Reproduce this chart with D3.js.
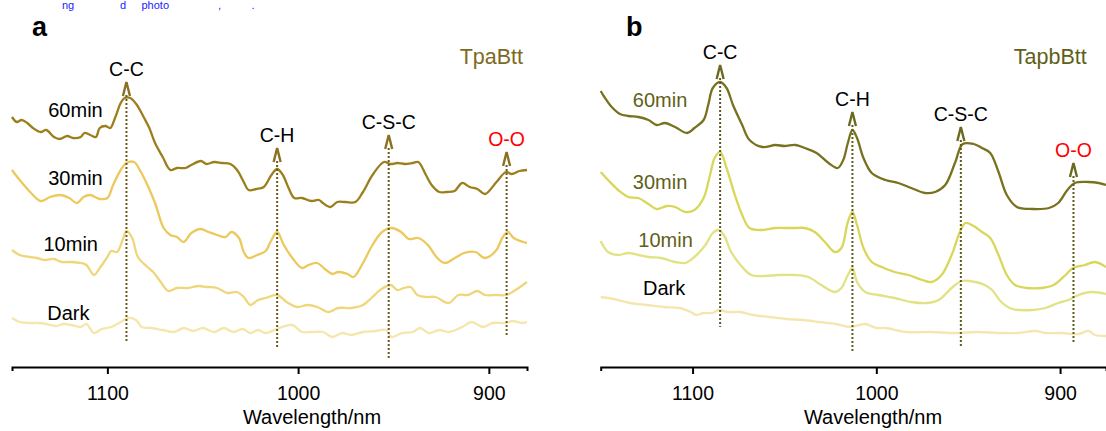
<!DOCTYPE html>
<html>
<head>
<meta charset="utf-8">
<script src="https://cdn.jsdelivr.net/npm/d3@7"></script>
<style>
  body { margin: 0; background: #fff; }
  svg { display: block; font-family: "Liberation Sans", Arial, sans-serif; }
</style>
</head>
<body>
<div id="chart"></div>
<script>
// spectra: [wavelength nm, intensity a.u. (stacked)]
const a60 = [[1150,2.50],[1147.5,2.45],[1145,2.47],[1142,2.44],[1139,2.39],[1135,2.35],[1132,2.37],[1128,2.30],[1125,2.28],[1121,2.31],[1118,2.29],[1114,2.30],[1112,2.34],[1109,2.32],[1106,2.30],[1104,2.39],[1101,2.41],[1098.5,2.39],[1096,2.49],[1093,2.64],[1091,2.69],[1088,2.69],[1084.5,2.62],[1081,2.50],[1078,2.39],[1075,2.24],[1071,2.10],[1067,1.97],[1063.5,1.99],[1059,1.99],[1056,2.02],[1051,2.06],[1048,2.03],[1044,2.05],[1040,2.04],[1035.5,2.03],[1032,1.97],[1028.5,1.85],[1026,1.77],[1022,1.78],[1018,1.80],[1014,1.92],[1011,1.98],[1008,1.92],[1005,1.79],[1002,1.69],[998,1.69],[993,1.66],[989,1.67],[987,1.64],[983,1.60],[979.5,1.65],[975,1.65],[970,1.65],[966,1.75],[961,1.92],[955,2.05],[951.5,2.03],[948,2.04],[944,2.03],[940,2.04],[937,2.05],[933,1.92],[930,1.82],[926,1.75],[922,1.75],[918,1.76],[914,1.84],[910,1.80],[906,1.78],[902,1.73],[896,1.85],[891,1.95],[888,1.93],[884,1.96],[880,1.97]]
const a30 = [[1150,1.97],[1146,1.87],[1140.5,1.75],[1135,1.66],[1130,1.70],[1125,1.72],[1120,1.69],[1116,1.64],[1112.5,1.70],[1109,1.72],[1104,1.68],[1100,1.69],[1097,1.82],[1093,1.97],[1090,2.04],[1086,2.05],[1083,1.97],[1079,1.82],[1075,1.64],[1070.5,1.39],[1067,1.32],[1063.5,1.30],[1060,1.25],[1056,1.34],[1051,1.38],[1047,1.35],[1042.5,1.32],[1038,1.30],[1035,1.35],[1031,1.29],[1028.5,1.15],[1026,1.09],[1021.5,1.12],[1017,1.16],[1014.5,1.25],[1011,1.35],[1007.5,1.22],[1003,1.09],[998,0.99],[994.5,1.02],[990,1.04],[986,0.98],[982,0.93],[979,0.95],[974,0.93],[971,0.90],[966,1.04],[961,1.22],[956,1.35],[951,1.39],[946,1.35],[942,1.28],[937,1.29],[932,1.22],[927,1.09],[923,1.04],[917,1.10],[913,1.14],[907,1.15],[902,1.09],[896,1.17],[893,1.29],[890,1.35],[887,1.29],[882,1.25],[880,1.24]]
const a10 = [[1150,1.17],[1146,1.12],[1140.5,1.10],[1137,1.09],[1133,1.07],[1128,1.08],[1124,1.05],[1119,1.05],[1114,1.04],[1111,1.02],[1107,0.92],[1104,0.99],[1100,1.10],[1098,1.16],[1095,1.15],[1092,1.27],[1090,1.36],[1087,1.29],[1084,1.10],[1079,1.00],[1076,0.95],[1072,0.85],[1068,0.76],[1063.5,0.79],[1058,0.79],[1052,0.81],[1048,0.80],[1042.5,0.79],[1037,0.74],[1032,0.75],[1028.5,0.70],[1025,0.62],[1021,0.67],[1017,0.69],[1011,0.72],[1006,0.65],[1000.5,0.60],[995,0.62],[990,0.60],[984,0.55],[979,0.59],[972,0.59],[966,0.62],[961,0.70],[957,0.77],[951.5,0.82],[948,0.77],[944.5,0.79],[941,0.80],[937.5,0.72],[933,0.70],[928,0.70],[921,0.64],[916,0.72],[911,0.72],[906,0.76],[902,0.72],[896,0.72],[891,0.72],[886,0.77],[880,0.85]]
const aDark = [[1150,0.49],[1146,0.45],[1140.5,0.44],[1136,0.44],[1132,0.43],[1127,0.41],[1123,0.43],[1119,0.42],[1114,0.40],[1111,0.43],[1107,0.34],[1103,0.38],[1098,0.40],[1093,0.45],[1089,0.49],[1085,0.47],[1082,0.40],[1077,0.39],[1071,0.37],[1065,0.35],[1060,0.39],[1055,0.36],[1050,0.39],[1044,0.35],[1039,0.39],[1034,0.35],[1029,0.38],[1025,0.34],[1021,0.37],[1017,0.34],[1010,0.39],[1003,0.42],[998,0.35],[993,0.35],[987,0.35],[982,0.30],[977,0.34],[972,0.32],[966,0.35],[959.5,0.36],[954,0.37],[951,0.30],[945.5,0.34],[940,0.35],[936,0.39],[931.5,0.34],[926,0.37],[921,0.35],[914,0.40],[909,0.45],[903,0.40],[898,0.44],[891,0.44],[888,0.46],[882,0.44],[880,0.45]]

const b60 = [[1150,2.76],[1148,2.70],[1144,2.60],[1139.5,2.53],[1135,2.51],[1129.5,2.50],[1124,2.47],[1119.5,2.42],[1115,2.44],[1109.5,2.40],[1103,2.34],[1099,2.39],[1094,2.47],[1091.5,2.62],[1089,2.79],[1085,2.85],[1081.5,2.79],[1078,2.62],[1073,2.42],[1069,2.27],[1062,2.20],[1055,2.22],[1050,2.21],[1044,2.22],[1039,2.19],[1032.5,2.14],[1026,2.04],[1021,1.99],[1018,2.07],[1015.5,2.24],[1013,2.37],[1010.5,2.29],[1007,2.09],[1002.5,1.94],[995,1.87],[988,1.84],[981,1.79],[973.5,1.74],[968,1.75],[962.5,1.82],[957,2.05],[953,2.23],[947,2.23],[942.5,2.19],[938,2.14],[933.5,1.95],[929,1.72],[923.5,1.60],[915,1.58],[906,1.59],[901,1.64],[896,1.77],[892,1.84],[884.5,1.85],[879,1.84],[875,1.82]]
const b30 = [[1150,1.95],[1146,1.87],[1140.5,1.77],[1135,1.70],[1129.5,1.69],[1124,1.63],[1119.5,1.58],[1114,1.61],[1109.5,1.60],[1104,1.55],[1099,1.57],[1094,1.69],[1090.5,1.92],[1088,2.09],[1085,2.15],[1081.5,1.99],[1077,1.72],[1073,1.52],[1069,1.39],[1062,1.37],[1055,1.39],[1050,1.39],[1044,1.39],[1039,1.39],[1033.5,1.35],[1028,1.25],[1022.5,1.15],[1019,1.19],[1015.5,1.45],[1013,1.55],[1010.5,1.42],[1007,1.19],[1002.5,1.05],[997,1.00],[990,0.95],[982.5,0.92],[975,0.87],[970,0.85],[964.5,0.92],[959,1.12],[954.5,1.35],[951.5,1.44],[947,1.41],[942.5,1.35],[938,1.29],[933.5,1.12],[929,0.92],[924.5,0.82],[918,0.79],[910,0.79],[903.5,0.82],[897,0.92],[893,0.99],[886.5,1.02],[881,1.05],[875,1.00]]
const b10 = [[1150,1.26],[1146,1.15],[1140.5,1.12],[1135,1.14],[1129.5,1.12],[1124,1.10],[1117,1.09],[1109.5,1.05],[1104,1.04],[1099,1.10],[1093,1.22],[1089,1.34],[1086,1.37],[1083,1.32],[1079,1.15],[1073,1.00],[1068,0.92],[1060.5,0.91],[1053.5,0.92],[1044,0.92],[1037,0.90],[1030,0.82],[1022.5,0.75],[1019,0.79],[1015.5,0.92],[1013,0.99],[1010.5,0.85],[1006,0.75],[999,0.72],[990,0.69],[981,0.65],[972,0.64],[966,0.67],[959,0.79],[953.5,0.86],[946,0.85],[941,0.82],[937,0.77],[932,0.65],[926,0.58],[915,0.57],[908,0.59],[901,0.64],[895.5,0.67],[890,0.72],[883,0.75],[875,0.73]]
const bDark = [[1150,0.70],[1143,0.68],[1134,0.64],[1125,0.62],[1116,0.60],[1107,0.59],[1101,0.55],[1098,0.52],[1094,0.54],[1089,0.54],[1086,0.57],[1081,0.55],[1074,0.55],[1067,0.52],[1058,0.50],[1049,0.48],[1040,0.47],[1031,0.45],[1022,0.43],[1014,0.40],[1006,0.43],[1000,0.39],[995,0.39],[983.5,0.35],[970,0.35],[957,0.34],[944.5,0.35],[933.5,0.34],[923,0.34],[913,0.36],[908,0.34],[899,0.34],[890,0.33],[884.5,0.36],[881,0.32],[875,0.31]]

// peak markers: wavelength, arrow tip and line foot (intensity units)
const peaksA = [
  {label: 'C-C',   wl: 1090,  tip: 2.85, foot: 0.25},
  {label: 'C-H',   wl: 1011,  tip: 2.19, foot: 0.19},
  {label: 'C-S-C', wl: 952.5, tip: 2.32, foot: 0.09},
  {label: 'O-O',   wl: 890.7, tip: 2.15, foot: 0.30}
]
const peaksB = [
  {label: 'C-C',   wl: 1085,  tip: 3.02, foot: 0.40},
  {label: 'C-H',   wl: 1013,  tip: 2.55, foot: 0.14},
  {label: 'C-S-C', wl: 954,   tip: 2.40, foot: 0.20},
  {label: 'O-O',   wl: 892.7, tip: 2.04, foot: 0.25}
]
// curve name labels: wavelength of left edge, baseline intensity
const namesA = [
  {text: '60min', wl: 1131, v: 2.50},
  {text: '30min', wl: 1131, v: 1.82},
  {text: '10min', wl: 1133.5, v: 1.16},
  {text: 'Dark',  wl: 1131.5, v: 0.47}
]
const namesB = [
  {text: '60min', wl: 1132.5, v: 2.60},
  {text: '30min', wl: 1132.5, v: 1.78},
  {text: '10min', wl: 1129.5, v: 1.20},
  {text: 'Dark',  wl: 1127, v: 0.72}
]
const tickVals = [1100, 1000, 900]

const W = 1106, H = 431
const svg = d3.select('#chart').append('svg').attr('width', W).attr('height', H)

// caption fragment above the figure (blue)
svg.append('text')
  .attr('x', 62).attr('y', 9)
  .style('font-size', '11px').style('fill', '#1a1aff')
  .style('white-space', 'pre')
  .text('ng               d     photo                ,          .')

const y = d3.scaleLinear().domain([0, 3]).range([367, 67])

function panel(cfg) {
  const x = d3.scaleLinear().domain(cfg.domain).range(cfg.range)
  const g = svg.append('g')

  const line = d3.line()
    .x(d => x(d[0])).y(d => y(d[1]))
    .curve(d3.curveCatmullRom.alpha(0.5))

  cfg.series.forEach(s => {
    g.append('path').datum(s.data)
      .attr('d', line)
      .attr('fill', 'none')
      .attr('stroke', s.color)
      .attr('stroke-width', 2.3)
      .attr('stroke-linejoin', 'round')
  })

  // dotted guide lines + arrowheads
  cfg.peaks.forEach(p => {
    const px = x(p.wl), pt = y(p.tip)
    g.append('line')
      .attr('x1', px).attr('x2', px)
      .attr('y1', pt + 13).attr('y2', y(p.foot))
      .attr('stroke', cfg.dash).attr('stroke-width', 2)
      .attr('stroke-dasharray', '2,2')
    g.append('path')
      .attr('d', `M${px - 3.5},${pt + 14}L${px},${pt}L${px + 3.5},${pt + 14}`)
      .attr('fill', 'none').attr('stroke', cfg.arrow).attr('stroke-width', 2.4)
    g.append('text')
      .attr('x', px).attr('y', pt - 6)
      .attr('text-anchor', 'middle')
      .style('font-size', '19.5px')
      .style('fill', p.label === 'O-O' ? '#ff0000' : '#000')
      .text(p.label)
  })

  cfg.names.forEach((n, i) => {
    g.append('text')
      .attr('x', x(n.wl)).attr('y', y(n.v))
      .style('font-size', '20px')
      .style('fill', cfg.nameColors[i])
      .text(n.text)
  })

  // axis
  const ax = g.append('g')
    .attr('transform', `translate(0,${y(0)})`)
    .call(d3.axisBottom(x).tickValues(tickVals).tickFormat(d3.format('d'))
      .tickSize(7).tickSizeOuter(4).tickPadding(12))
  ax.select('.domain').attr('stroke-width', 2)
  ax.selectAll('.tick line').attr('stroke-width', 2)
  ax.selectAll('.tick text').style('font-size', '19.5px').style('font-family', '"Liberation Sans", Arial, sans-serif')

  g.append('text')
    .attr('x', cfg.titleX).attr('y', 424)
    .attr('text-anchor', 'middle')
    .style('font-size', '20px')
    .text('Wavelength/nm')

  g.append('text')
    .attr('x', cfg.letterX).attr('y', 36)
    .style('font-size', '27px').style('font-weight', 'bold')
    .text(cfg.letter)

  g.append('text')
    .attr('x', cfg.range[0] + cfg.nameEnd).attr('y', 64)
    .attr('text-anchor', 'end')
    .style('font-size', '21.5px').style('fill', cfg.nameFill)
    .text(cfg.name)
}

panel({
  domain: [1150, 880], range: [12, 527],
  series: [
    {data: aDark, color: '#f5e6ac'},
    {data: a10, color: '#f0d67a'},
    {data: a30, color: '#ebc95c'},
    {data: a60, color: '#9b7f1c'}
  ],
  peaks: peaksA, dash: '#6e5a1e', arrow: '#8a7020',
  names: namesA, nameColors: ['#000', '#000', '#000', '#000'],
  titleX: 312, letter: 'a', letterX: 32,
  name: 'TpaBtt', nameEnd: 511, nameFill: '#7d6a1e'
})

panel({
  domain: [1150, 875], range: [600.7, 1106],
  series: [
    {data: bDark, color: '#f5e6b0'},
    {data: b10, color: '#e2e284'},
    {data: b30, color: '#d8d75a'},
    {data: b60, color: '#77721e'}
  ],
  peaks: peaksB, dash: '#5e5a1e', arrow: '#6b6a20',
  names: namesB, nameColors: ['#5f5f19', '#5f5f19', '#5f5f19', '#000'],
  titleX: 873, letter: 'b', letterX: 626,
  name: 'TapbBtt', nameEnd: 486, nameFill: '#5f5f19'
})
</script>
</body>
</html>
